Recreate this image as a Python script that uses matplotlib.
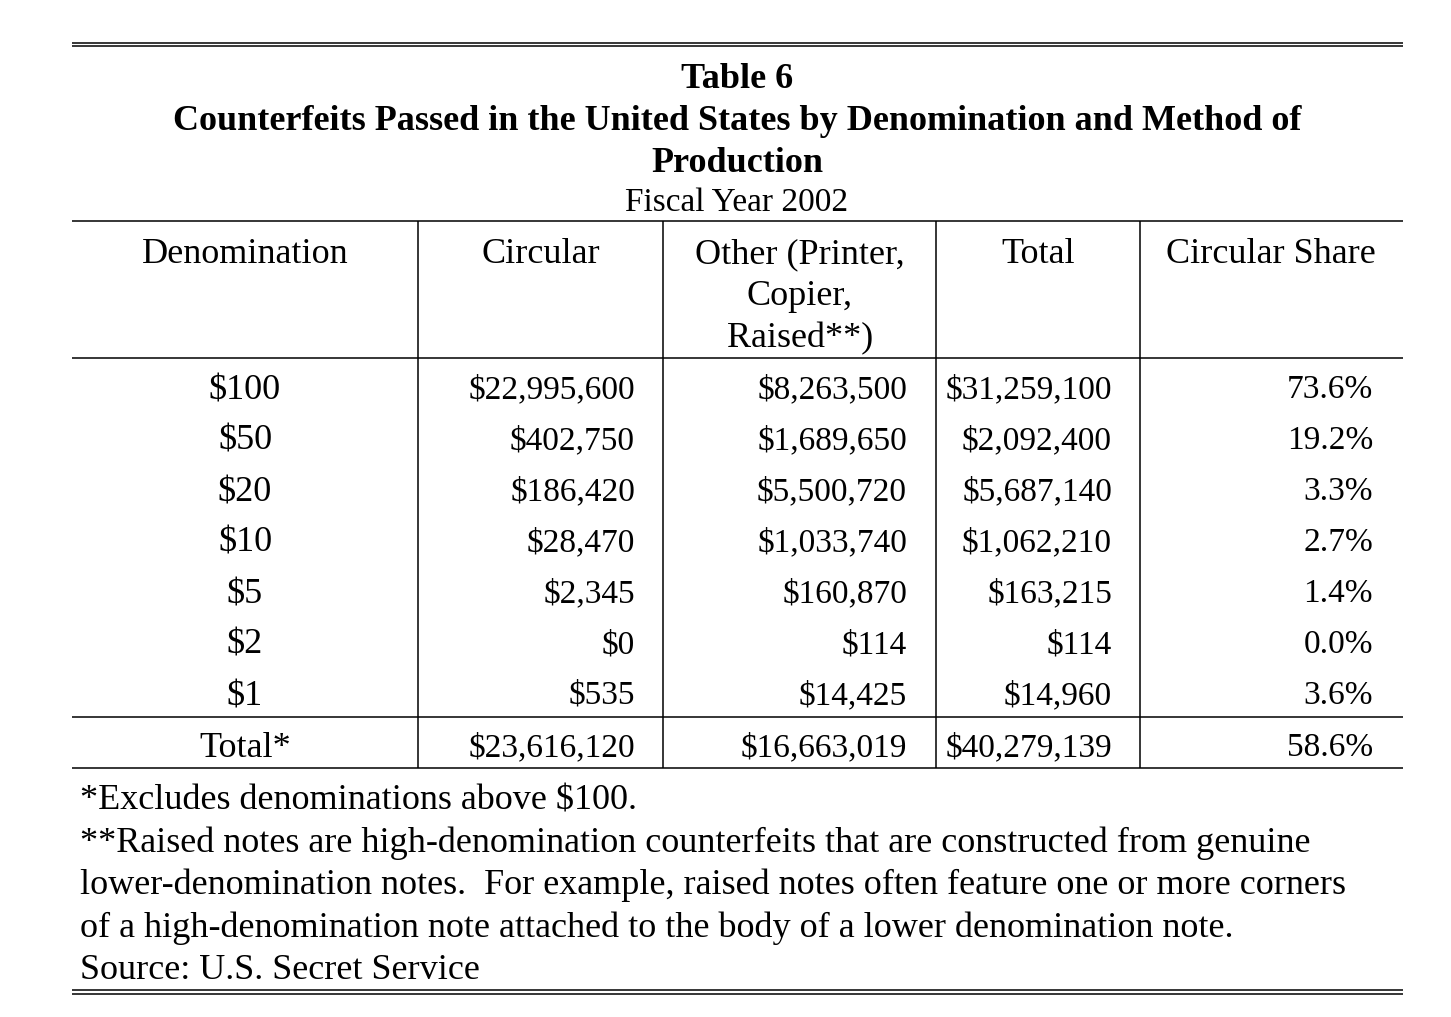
import matplotlib
matplotlib.use("Agg")
import matplotlib.pyplot as plt

# ---- data ----
denominations = ["$100", "$50", "$20", "$10", "$5", "$2", "$1"]
circular = [22995600, 402750, 186420, 28470, 2345, 0, 535]
other = [8263500, 1689650, 5500720, 1033740, 160870, 114, 14425]
total = [31259100, 2092400, 5687140, 1062210, 163215, 114, 14960]
circular_share = [73.6, 19.2, 3.3, 2.7, 1.4, 0.0, 3.6]
total_row = ["Total*", 23616120, 16663019, 40279139, 58.6]

title_lines = ["Table 6",
               "Counterfeits Passed in the United States by Denomination and Method of",
               "Production"]
subtitle = "Fiscal Year 2002"
headers = [["Denomination"], ["Circular"], ["Other (Printer,", "Copier,", "Raised**)"],
           ["Total"], ["Circular Share"]]
footnotes = ["*Excludes denominations above $100.",
             "**Raised notes are high-denomination counterfeits that are constructed from genuine",
             "lower-denomination notes.  For example, raised notes often feature one or more corners",
             "of a high-denomination note attached to the body of a lower denomination note.",
             "Source: U.S. Secret Service"]

W, H = 1451, 1017
fig = plt.figure(figsize=(W / 100, H / 100), dpi=100)
ax = fig.add_axes([0, 0, 1, 1])
ax.set_xlim(0, W)
ax.set_ylim(H, 0)
ax.axis("off")

FONT = "Liberation Serif"
FS = 26
FSN = 24
lw = 1.1
L, R = 72, 1403

def hline(y):
    ax.plot([L, R], [y, y], color="black", lw=lw, solid_capstyle="butt")

def txt(x, y, s, ha="center", bold=False, fs=FS):
    ax.text(x, y, s, ha=ha, va="baseline", fontsize=fs, family=FONT,
            fontweight="bold" if bold else "normal", color="black")

# double rules
hline(42.5); hline(46)
hline(989.5); hline(993.5)

# title
for i, t in enumerate(title_lines):
    txt(737, 88 + 42 * i, t, bold=True)
txt(737, 211, subtitle, fs=FSN)

# table rules
hline(221)
hline(358)
hline(717)
hline(768)
for x in [418, 663, 936, 1140]:
    ax.plot([x, x], [221, 768], color="black", lw=lw, solid_capstyle="butt")

# headers
hx = [245, 541, 800, 1038, 1271]
for x, lines in zip(hx, headers):
    for j, s in enumerate(lines):
        txt(x, 263 + 42 * j, s)

def money(v):
    return "${:,}".format(v)

# rows
for i in range(len(denominations)):
    yb = 399 + 51 * i
    txt(245, yb, denominations[i])
    txt(635, yb - 1, money(circular[i]), ha="right", fs=FSN)
    txt(907, yb - 1, money(other[i]), ha="right", fs=FSN)
    txt(1112, yb - 1, money(total[i]), ha="right", fs=FSN)
    txt(1373, yb - 1, "{:.1f}%".format(circular_share[i]), ha="right", fs=FSN)

# total row
yb = 757
txt(245, yb, total_row[0])
txt(635, yb - 1, money(total_row[1]), ha="right", fs=FSN)
txt(907, yb - 1, money(total_row[2]), ha="right", fs=FSN)
txt(1112, yb - 1, money(total_row[3]), ha="right", fs=FSN)
txt(1373, yb - 1, "{:.1f}%".format(total_row[4]), ha="right", fs=FSN)

# footnotes
for i, s in enumerate(footnotes):
    txt(80, 810 + 42.2 * i, s, ha="left")

fig.savefig("out.png", dpi=100)
